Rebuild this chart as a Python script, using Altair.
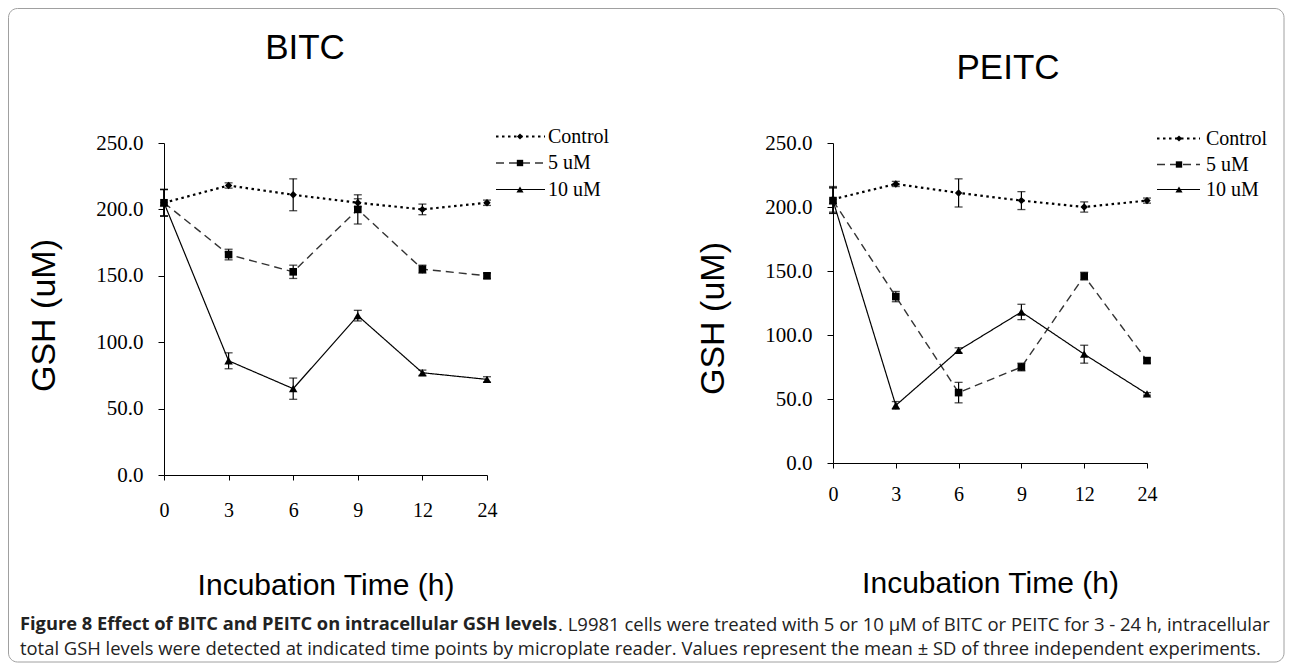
import altair as alt
import pandas as pd

# ---------------- data ----------------
times = ["0", "3", "6", "9", "12", "24"]
series = ["Control", "5 uM", "10 uM"]
panel_titles = ["BITC", "PEITC"]
y_ticks = [0, 50, 100, 150, 200, 250]
x_title = "Incubation Time (h)"
y_title = "GSH (uM)"

bitc_control = [205, 218, 211, 205, 200, 205]
bitc_control_sd = [10, 2, 12, 3, 4, 2]
bitc_5 = [205, 166, 153, 200, 155, 150]
bitc_5_sd = [10, 4, 5, 11, 3, 2]
bitc_10 = [205, 86, 65, 120, 77, 72]
bitc_10_sd = [10, 6, 8, 4, 2, 2]

peitc_control = [206, 218, 211, 205, 200, 205]
peitc_control_sd = [10, 2, 11, 7, 4, 2]
peitc_5 = [205, 130, 55, 75, 146, 80]
peitc_5_sd = [10, 4, 8, 3, 3, 2]
peitc_10 = [205, 45, 88, 118, 85, 54]
peitc_10_sd = [10, 3, 2, 6, 7, 1]

caption_bold = "Figure 8 Effect of BITC and PEITC on intracellular GSH levels"
caption_rest1 = ". L9981 cells were treated with 5 or 10 \u03bcM of BITC or PEITC for 3 - 24 h, intracellular"
caption_line2 = ("total GSH levels were detected at indicated time points by microplate reader. "
                 "Values represent the mean \u00b1 SD of three independent experiments.")

# ---------------- styles ----------------
STYLE = {
    "Control": dict(color="black", width=2.2, dash=[2.5, 3.5], shape="diamond", size=55),
    "5 uM": dict(color="#333333", width=1.4, dash=[8, 5], shape="square", size=58),
    "10 uM": dict(color="black", width=1.2, dash=[1, 0], shape="triangle-up", size=72),
}
SERIF = "Liberation Serif"
SANS = "Liberation Sans"


def one(v):
    return pd.DataFrame({"v": [v]})


def panel(vals, sds, title, w, h, lab_pad, xt_y, yt_x, yt_y, title_pos, leg, extra=None):
    rows = []
    for s, v, sd in zip(series, vals, sds):
        for t, a, b in zip(times, v, sd):
            rows.append({"time": t, "series": s, "value": a, "lo": a - b, "hi": a + b})
    df = pd.DataFrame(rows)

    X = alt.X("time:O", sort=times,
              scale=alt.Scale(type="point", padding=0),
              axis=alt.Axis(title=x_title, labelAngle=0, tickSize=5, labelPadding=lab_pad,
                            labelBaseline="middle",
                            labelFont=SERIF, labelFontSize=20, labelColor="black",
                            domainColor="black", tickColor="black", grid=False,
                            titleFont=SANS, titleFontSize=30, titleFontWeight="normal",
                            titleColor="black", titleX=w / 2, titleY=xt_y,
                            titleAlign="center", titleBaseline="middle"))
    Y = alt.Y("value:Q", scale=alt.Scale(domain=[0, 250], nice=False),
              axis=alt.Axis(title=y_title, values=y_ticks, format=".1f", tickSize=6,
                            labelPadding=15, labelFont=SERIF, labelFontSize=21,
                            labelColor="black", domainColor="black", tickColor="black",
                            grid=False, titleFont=SANS, titleFontSize=34,
                            titleFontWeight="normal", titleColor="black",
                            titleX=yt_x, titleY=yt_y, titleAngle=-90,
                            titleAlign="center", titleBaseline="middle"))

    layers = []
    if extra is not None:
        layers.extend(extra)
    for s in series:
        st = STYLE[s]
        d = df[df.series == s]
        base = alt.Chart(d)
        layers.append(base.mark_rule(color="black", strokeWidth=1.2).encode(
            x=X, y=alt.Y("lo:Q"), y2="hi:Q"))
        layers.append(base.mark_tick(orient="horizontal", color="black", size=8,
                                     thickness=1.3).encode(x=X, y=alt.Y("lo:Q")))
        layers.append(base.mark_tick(orient="horizontal", color="black", size=8,
                                     thickness=1.3).encode(x=X, y=alt.Y("hi:Q")))
        layers.append(base.mark_line(color=st["color"], strokeWidth=st["width"],
                                     strokeDash=st["dash"]).encode(x=X, y=Y))
        layers.append(base.mark_point(shape=st["shape"], filled=True, opacity=1,
                                      color="black", size=st["size"]).encode(x=X, y=Y))

    # manual legend
    lx0, lx1, lmx, ltx, lys = leg
    for s, ly in zip(series, lys):
        st = STYLE[s]
        src = alt.Chart(pd.DataFrame({"series": [s]}))
        layers.append(src.mark_rule(color=st["color"], strokeWidth=st["width"],
                                    strokeDash=st["dash"]).encode(
            x=alt.value(lx0), x2=alt.value(lx1), y=alt.value(ly)))
        layers.append(src.mark_point(shape=st["shape"], filled=True, opacity=1,
                                     color="black", size=st["size"] * 0.7).encode(
            x=alt.value(lmx), y=alt.value(ly)))
        layers.append(src.mark_text(align="left", baseline="middle", font=SERIF,
                                    fontSize=20, color="black").encode(
            text="series:N", x=alt.value(ltx), y=alt.value(ly)))

    # panel title
    layers.append(alt.Chart(pd.DataFrame({"t": [title]})).mark_text(
        font=SANS, fontSize=35, color="black", align="center", baseline="middle").encode(
        text="t:N", x=alt.value(title_pos[0]), y=alt.value(title_pos[1])))

    return alt.layer(*layers).properties(width=w, height=h)


# frame and caption (drawn with the left panel, positioned in pixels)
frame = alt.Chart(one(0)).mark_rect(fillOpacity=0, stroke="#a0a0a0", strokeWidth=1,
                                    cornerRadius=9).encode(
    x=alt.value(-155.5), x2=alt.value(1120), y=alt.value(-134.5), y2=alt.value(519))
cap_font = "Open Sans"
cap1 = alt.Chart(pd.DataFrame({"t": [caption_bold]})).mark_text(
    font=cap_font, fontSize=18.3, fontWeight="bold", color="#222", align="left",
    baseline="middle").encode(text="t:N", x=alt.value(-144), y=alt.value(482))
cap2 = alt.Chart(pd.DataFrame({"t": [caption_rest1]})).mark_text(
    font=cap_font, fontSize=18.5, color="#222", align="left",
    baseline="middle").encode(text="t:N", x=alt.value(394), y=alt.value(482))
cap3 = alt.Chart(pd.DataFrame({"t": [caption_line2]})).mark_text(
    font=cap_font, fontSize=18.4, color="#222", align="left",
    baseline="middle").encode(text="t:N", x=alt.value(-144), y=alt.value(506))

left = panel([bitc_control, bitc_5, bitc_10], [bitc_control_sd, bitc_5_sd, bitc_10_sd],
             panel_titles[0], 323, 332, 30, 110, -120, 172, (141, -95),
             (332, 381, 356, 384, [-6.5, 20, 46.5]), extra=[frame, cap1, cap2, cap3])
right = panel([peitc_control, peitc_5, peitc_10], [peitc_control_sd, peitc_5_sd, peitc_10_sd],
              panel_titles[1], 314, 320, 26, 120, -120, 175, (175, -75),
              (324, 367, 346, 373, [-4.5, 21.5, 46.5]))

chart = alt.hconcat(left, right, spacing=346, bounds="flush").properties(
    padding=0).configure_view(stroke=None)

chart.save("out.html", embed_options={"renderer": "svg", "actions": False})
